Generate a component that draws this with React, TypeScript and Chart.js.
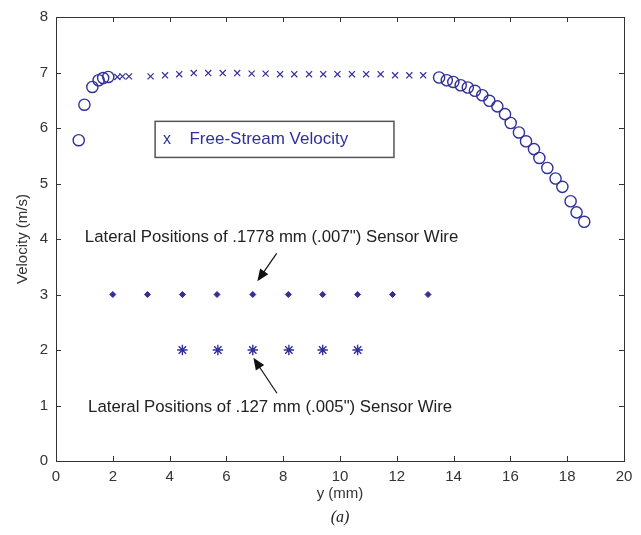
import { useEffect, useRef } from 'react';
import { Chart, registerables } from 'chart.js';

Chart.register(...registerables);

// ---- data (y in mm, velocity in m/s) ----
const profileY = [0.8, 1.0, 1.28, 1.5, 1.66, 1.84, 13.49, 13.76, 13.99, 14.25, 14.5, 14.75, 15.01, 15.26, 15.54, 15.81, 16.01, 16.3, 16.55, 16.83, 17.02, 17.3, 17.59, 17.83, 18.12, 18.33, 18.6];
const profileV = [5.78, 6.42, 6.74, 6.86, 6.9, 6.92, 6.91, 6.86, 6.83, 6.77, 6.73, 6.67, 6.59, 6.49, 6.39, 6.25, 6.09, 5.92, 5.76, 5.62, 5.46, 5.28, 5.09, 4.94, 4.68, 4.48, 4.31];

const freeStreamY = [2.16, 2.34, 2.57, 3.33, 3.84, 4.34, 4.85, 5.36, 5.87, 6.38, 6.89, 7.38, 7.89, 8.39, 8.91, 9.41, 9.91, 10.42, 10.92, 11.43, 11.94, 12.44, 12.93];
const freeStreamV = [6.92, 6.93, 6.93, 6.93, 6.95, 6.97, 6.99, 6.99, 6.99, 6.99, 6.98, 6.98, 6.97, 6.97, 6.97, 6.97, 6.97, 6.97, 6.97, 6.97, 6.95, 6.95, 6.95];

const wire007Y = [2.0, 3.22, 4.45, 5.67, 6.93, 8.18, 9.39, 10.62, 11.85, 13.1];
const wire007Level = 3;
const wire005Y = [4.45, 5.7, 6.93, 8.2, 9.39, 10.62];
const wire005Level = 2;

const xTicks = { min: 0, max: 20, step: 2 };
const yTicks = { min: 0, max: 8, step: 1 };

const legendLabel = 'Free-Stream Velocity';
const label007 = 'Lateral Positions of .1778 mm (.007") Sensor Wire';
const label005 = 'Lateral Positions of .127 mm (.005") Sensor Wire';
const xTitle = 'y (mm)';
const yTitle = 'Velocity (m/s)';
const caption = '(a)';

const BLUE = '#30309a';
const AXIS = '#333333';
const FONT = "'Liberation Sans', Arial, Helvetica, sans-serif";

const pts = (xs: number[], ys: number[]) => xs.map((x, i) => ({ x, y: ys[i] }));
const flat = (xs: number[], v: number) => xs.map((x) => ({ x, y: v }));

const decor = {
  id: 'decor',
  afterDraw(chart: any) {
    const { ctx, chartArea, scales } = chart;
    const { left, right, top, bottom } = chartArea;
    const xs = scales.x;
    const ys = scales.y;
    const px = (v: number) => xs.getPixelForValue(v);
    const py = (v: number) => ys.getPixelForValue(v);
    ctx.save();
    // frame
    ctx.strokeStyle = AXIS;
    ctx.lineWidth = 1;
    ctx.strokeRect(Math.round(left) + 0.5, Math.round(top) + 0.5, Math.round(right - left), Math.round(bottom - top));
    // inward ticks
    const tl = 5;
    ctx.beginPath();
    xs.ticks.forEach((t: any) => {
      const x = Math.round(px(t.value)) + 0.5;
      ctx.moveTo(x, bottom); ctx.lineTo(x, bottom - tl);
      ctx.moveTo(x, top); ctx.lineTo(x, top + tl);
    });
    ys.ticks.forEach((t: any) => {
      const y = Math.round(py(t.value)) + 0.5;
      ctx.moveTo(left, y); ctx.lineTo(left + tl, y);
      ctx.moveTo(right, y); ctx.lineTo(right - tl, y);
    });
    ctx.stroke();

    // legend box
    const bx0 = px(3.49), bx1 = px(11.9), by0 = py(6.12), by1 = py(5.47);
    ctx.fillStyle = '#ffffff';
    ctx.fillRect(bx0, by0, bx1 - bx0, by1 - by0);
    ctx.strokeStyle = '#555555';
    ctx.lineWidth = 1.5;
    ctx.strokeRect(bx0, by0, bx1 - bx0, by1 - by0);
    const my = (by0 + by1) / 2;
    ctx.fillStyle = BLUE;
    ctx.font = `16px ${FONT}`;
    ctx.textBaseline = 'middle';
    ctx.textAlign = 'left';
    ctx.fillText('x', bx0 + 8, my);
    ctx.font = `17px ${FONT}`;
    ctx.fillText(legendLabel, px(4.7), my);

    // annotations
    ctx.fillStyle = '#222222';
    ctx.font = `16.8px ${FONT}`;
    ctx.textAlign = 'center';
    ctx.fillText(label007, px(7.59), py(4.03));
    ctx.fillText(label005, px(7.54), py(0.97));

    const arrow = (x0: number, y0: number, x1: number, y1: number) => {
      const ax = px(x0), ay = py(y0), bx = px(x1), by = py(y1);
      const ang = Math.atan2(by - ay, bx - ax);
      const hl = 12, hw = 5;
      ctx.strokeStyle = '#111111';
      ctx.lineWidth = 1.2;
      ctx.beginPath();
      ctx.moveTo(ax, ay);
      ctx.lineTo(bx - Math.cos(ang) * hl * 0.8, by - Math.sin(ang) * hl * 0.8);
      ctx.stroke();
      ctx.fillStyle = '#111111';
      ctx.beginPath();
      ctx.moveTo(bx, by);
      ctx.lineTo(bx - Math.cos(ang) * hl - Math.sin(ang) * hw, by - Math.sin(ang) * hl + Math.cos(ang) * hw);
      ctx.lineTo(bx - Math.cos(ang) * hl + Math.sin(ang) * hw, by - Math.sin(ang) * hl - Math.cos(ang) * hw);
      ctx.closePath();
      ctx.fill();
    };
    arrow(7.77, 3.74, 7.09, 3.24);
    arrow(7.78, 1.22, 6.95, 1.86);

    // axis titles
    ctx.fillStyle = AXIS;
    ctx.font = `15px ${FONT}`;
    ctx.textAlign = 'center';
    ctx.fillText(xTitle, (left + right) / 2, 494);
    ctx.save();
    ctx.translate(23, (top + bottom) / 2);
    ctx.rotate(-Math.PI / 2);
    ctx.fillText(yTitle, 0, 0);
    ctx.restore();
    ctx.fillStyle = '#222222';
    ctx.font = `italic 16px 'Liberation Serif', 'Times New Roman', serif`;
    ctx.fillText(caption, (left + right) / 2, 518);
    ctx.restore();
  },
};

export default function App() {
  const ref = useRef<HTMLCanvasElement>(null);
  useEffect(() => {
    if (!ref.current) return;
    const chart = new Chart(ref.current, {
      type: 'scatter',
      data: {
        datasets: [
          {
            label: 'Profile',
            data: pts(profileY, profileV),
            pointStyle: 'circle',
            pointRadius: 5.6,
            borderColor: BLUE,
            backgroundColor: 'rgba(0,0,0,0)',
            pointBorderWidth: 1.4,
          },
          {
            label: legendLabel,
            data: pts(freeStreamY, freeStreamV),
            pointStyle: 'crossRot',
            pointRadius: 4.3,
            borderColor: BLUE,
            pointBorderWidth: 1.2,
          },
          {
            label: label007,
            data: flat(wire007Y, wire007Level),
            pointStyle: 'rectRot',
            pointRadius: 3,
            borderColor: BLUE,
            backgroundColor: BLUE,
            pointBorderWidth: 1,
          },
          {
            label: label005,
            data: flat(wire005Y, wire005Level),
            pointStyle: 'star',
            pointRadius: 5.2,
            borderColor: BLUE,
            pointBorderWidth: 1.4,
          },
        ],
      },
      options: {
        animation: false,
        responsive: false,
        devicePixelRatio: 1,
        layout: { padding: { top: 14, right: 17, left: 0, bottom: 0 } },
        plugins: { legend: { display: false }, tooltip: { enabled: false } },
        scales: {
          x: {
            type: 'linear',
            min: xTicks.min,
            max: xTicks.max,
            ticks: { stepSize: xTicks.step, padding: 7, color: AXIS, font: { family: FONT, size: 15 }, maxRotation: 0 },
            grid: { display: false, drawTicks: false },
            border: { display: false },
            afterFit: (s: any) => { s.height = 74; },
          },
          y: {
            type: 'linear',
            min: yTicks.min,
            max: yTicks.max,
            ticks: { stepSize: yTicks.step, padding: 8, color: AXIS, font: { family: FONT, size: 15 } },
            grid: { display: false, drawTicks: false },
            border: { display: false },
            afterFit: (s: any) => { s.width = 56; },
          },
        },
      },
      plugins: [decor],
    });
    return () => chart.destroy();
  }, []);
  return (
    <div style={{ position: 'absolute', left: 0, top: 0, width: 641, height: 535, background: '#fff' }}>
      <canvas ref={ref} width={641} height={535} />
    </div>
  );
}
